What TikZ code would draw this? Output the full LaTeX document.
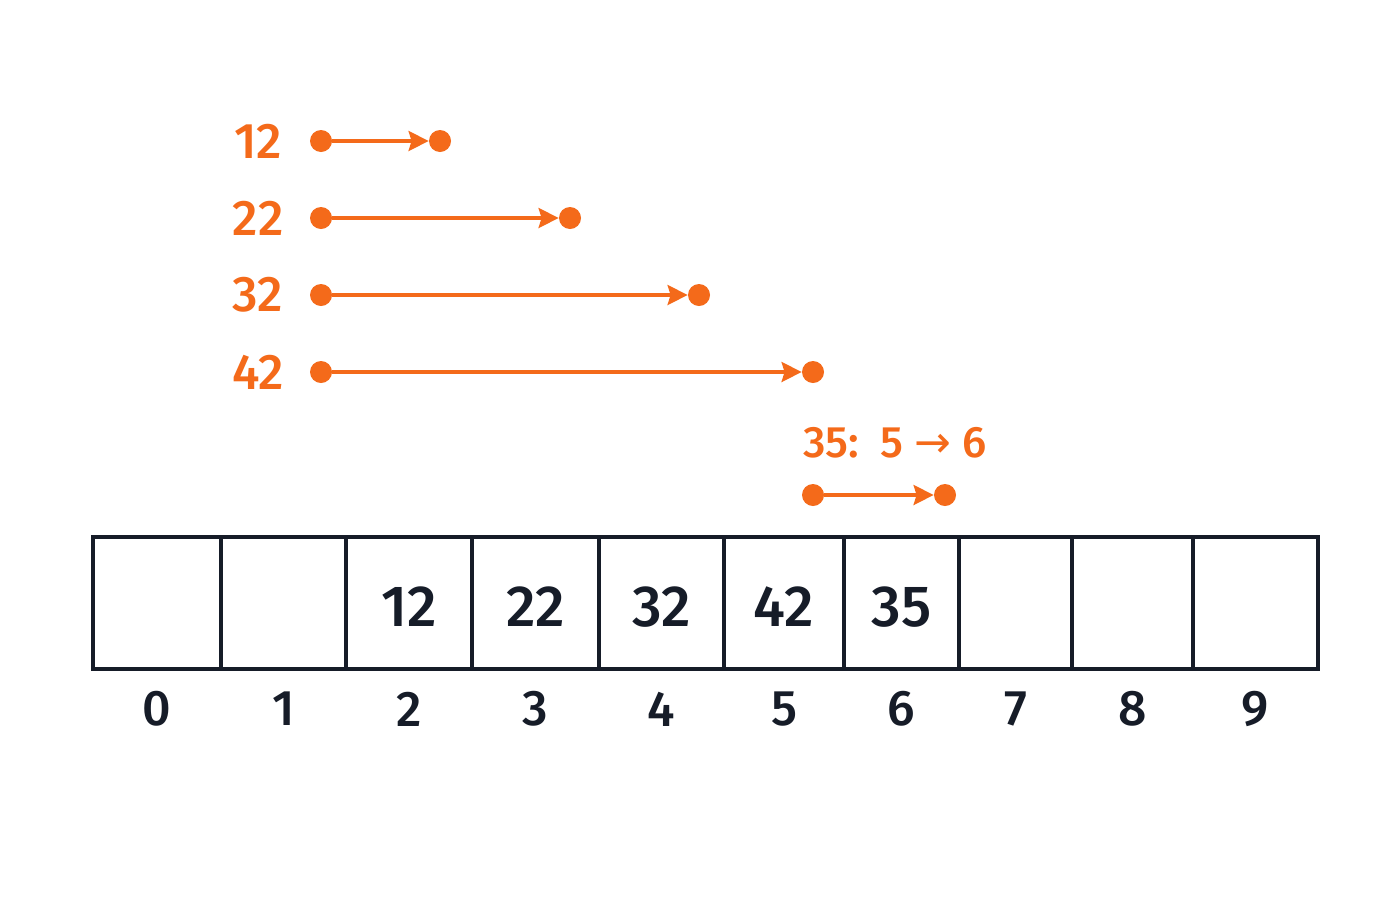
\documentclass[tikz,border=0pt]{standalone}
\usepackage{fontspec}
\setmainfont{Fira Sans Medium}
\newfontfamily\arrowfont{DejaVu Sans}
\usetikzlibrary{arrows.meta}
\definecolor{org}{RGB}{244,106,26}
\definecolor{ink}{RGB}{22,28,40}
\begin{document}
\begin{tikzpicture}[x=0.5pt,y=-0.5pt,
  cell/.style={draw=ink,line width=1.7pt,minimum height=66pt,inner sep=0pt,outer sep=0pt,text=ink},
  val/.style={font=\fontsize{29}{34}\selectfont,text=ink},
  idx/.style={font=\fontsize{25}{30}\selectfont,text=ink},
  lbl/.style={font=\fontsize{25}{30}\selectfont,text=org},
  note/.style={font=\fontsize{22}{26}\selectfont,text=org},
  dot/.style={circle,fill=org,minimum size=11pt,inner sep=0pt},
  arr/.style={draw=org,line width=1.7pt,-{Stealth[length=10pt,width=10pt,inset=1.5pt]}}]
\useasboundingbox (0,0) rectangle (1400,900);
\fill[white] (0,0) rectangle (1400,900);
% cells and indices
\foreach \l/\r/\i/\v in {93/221/0/{},221/346/1/{},346/472/2/12,472/599/3/22,599/724/4/32,724/844/5/42,844/959/6/35,959/1072/7/{},1072/1193/8/{},1193/1318/9/{}} {
  \pgfmathsetmacro\w{(\r-\l)/2}
  \node[cell,minimum width=\w pt] (c\i) at ({(\l+\r)/2},603) {};
  \node[val] (v\i) at ({(\l+\r)/2},607) {\v};
  \node[idx] (i\i) at ({(\l+\r)/2},709) {\i};
}
% probe arrows
\foreach \n/\y/\e in {12/141/440,22/218/570,32/295/699,42/372/813} {
  \node[lbl] (l\n) at (258,\y) {\n};
  \node[dot] (s\n) at (321,\y) {};
  \node[dot] (e\n) at (\e,\y) {};
  \draw[arr] (s\n) -- (e\n);
}
% displacement of 35
\node[note] (n35) at (895,443) {35:\ \ 5 {\arrowfont →} 6};
\node[dot] (s35) at (813,495) {};
\node[dot] (e35) at (945,495) {};
\draw[arr] (s35) -- (e35);
\end{tikzpicture}
\end{document}
